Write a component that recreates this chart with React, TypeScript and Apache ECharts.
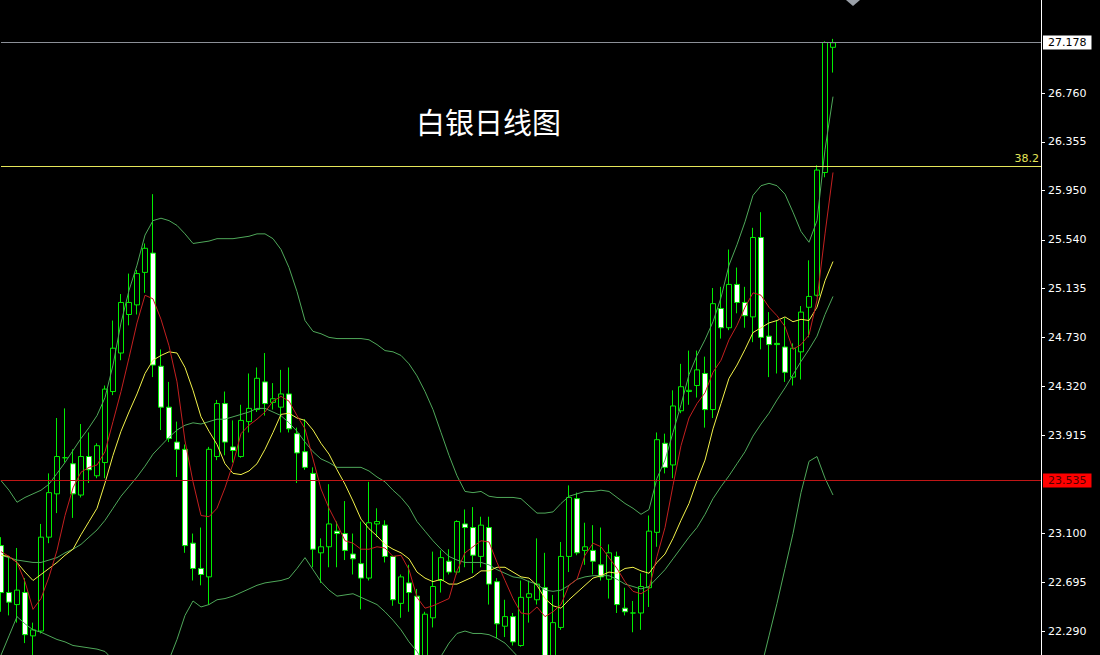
import React, { useEffect, useRef } from "react";
import * as echarts from "echarts";

// ---- data ----
const chartTitle = "白银日线图";
const slotCount = 131;
const categories = Array.from({ length: slotCount }, (_, i) => String(i + 1));

const opens = [
  23.00, 22.61, 22.51, 22.61, 22.25, 22.29, 23.07, 23.43, 23.73, 23.68,
  23.42, 23.74, 23.58, 23.69, 24.28, 24.60, 24.92, 25.00, 25.27, 25.43,
  24.49, 24.15, 23.86, 23.80, 23.02, 22.81, 22.74, 23.74, 24.18, 23.82,
  23.74, 24.03, 24.13, 24.36, 24.19, 24.15, 24.26, 23.93, 23.78, 23.60,
  22.94, 22.99, 23.12, 23.10, 22.93, 22.85, 22.73, 23.18, 23.17, 22.91,
  22.52, 22.69, 22.58, 22.01, 22.40, 22.71, 22.87, 22.78, 23.18, 23.15,
  22.91, 23.15, 22.70, 22.33, 22.41, 22.17, 22.57, 22.55, 22.65, 22.01,
  22.32, 22.91, 23.39, 22.96, 22.96, 22.84, 22.72, 22.91, 22.48, 22.44,
  22.44, 22.65, 23.11, 23.85, 23.67, 24.12, 24.28, 24.33, 24.43, 24.13,
  24.97, 24.81, 25.17, 25.02, 24.90, 25.56, 24.74, 24.68, 24.65, 24.40,
  24.61, 24.98, 25.08, 26.10, 27.14,
];
const closes = [
  22.61, 22.53, 22.63, 22.26, 22.30, 23.07, 23.44, 23.74, 23.73, 23.43,
  23.74, 23.63, 23.83, 24.30, 24.64, 25.02, 25.02, 25.26, 25.47, 24.50,
  24.15, 23.89, 23.80, 23.00, 22.81, 22.76, 23.80, 24.18, 23.86, 23.79,
  24.04, 24.14, 24.39, 24.18, 24.22, 24.26, 23.97, 23.77, 23.65, 22.97,
  22.99, 23.18, 23.10, 22.96, 22.89, 22.73, 23.19, 23.20, 22.91, 22.55,
  22.74, 22.61, 22.05, 22.43, 22.66, 22.90, 22.78, 23.20, 23.15, 22.92,
  23.17, 22.68, 22.35, 22.41, 22.20, 22.57, 22.60, 22.68, 22.01, 22.36,
  22.91, 23.40, 22.94, 22.99, 22.87, 22.74, 22.94, 22.51, 22.45, 22.44,
  22.66, 23.12, 23.88, 23.65, 24.16, 24.32, 24.29, 24.46, 24.13, 25.01,
  24.81, 25.17, 25.02, 24.91, 25.56, 24.73, 24.67, 24.67, 24.44, 24.64,
  24.94, 25.07, 26.12, 27.18, 27.178,
];
const highs = [
  23.07, 22.91, 22.98, 22.73, 22.36, 23.18, 23.60, 24.06, 24.14, 23.80,
  24.01, 23.94, 23.85, 24.33, 24.87, 25.09, 25.26, 25.29, 25.51, 25.92,
  24.63, 24.36, 24.03, 23.84, 23.10, 23.15, 23.82, 24.21, 24.28, 24.04,
  24.17, 24.43, 24.48, 24.60, 24.35, 24.46, 24.48, 23.98, 24.05, 23.65,
  23.06, 23.51, 23.20, 23.37, 23.10, 23.20, 23.53, 23.31, 23.21, 22.91,
  22.76, 22.84, 22.64, 22.45, 22.95, 22.96, 22.97, 23.21, 23.30, 23.32,
  23.24, 23.24, 22.73, 22.55, 22.44, 22.71, 22.71, 23.06, 22.94, 22.59,
  23.03, 23.50, 23.44, 23.19, 23.17, 23.15, 23.01, 22.95, 22.65, 22.54,
  22.77, 23.25, 23.94, 23.93, 24.29, 24.51, 24.62, 24.62, 24.57, 25.14,
  25.15, 25.46, 25.31, 25.15, 25.64, 25.77, 24.94, 24.87, 24.89, 24.68,
  24.99, 25.37, 26.16, 27.19, 27.21,
];
const lows = [
  22.45, 22.42, 22.36, 22.19, 22.05, 22.27, 23.02, 23.27, 23.69, 23.23,
  23.40, 23.52, 23.56, 23.56, 24.25, 24.54, 24.83, 24.92, 25.10, 24.40,
  23.96, 23.86, 23.57, 22.94, 22.71, 22.67, 22.51, 23.71, 23.75, 23.69,
  23.73, 23.94, 24.11, 24.08, 24.13, 23.94, 23.94, 23.52, 23.63, 22.82,
  22.69, 22.82, 22.82, 22.88, 22.76, 22.47, 22.71, 23.07, 22.86, 22.50,
  22.40, 22.45, 21.97, 21.95, 22.32, 22.61, 22.76, 22.76, 22.82, 22.77,
  22.82, 22.51, 22.23, 22.24, 22.17, 22.16, 22.36, 22.51, 21.92, 21.97,
  22.30, 22.78, 22.92, 22.84, 22.76, 22.71, 22.56, 22.44, 22.42, 22.28,
  22.30, 22.49, 22.99, 23.60, 23.56, 24.10, 24.17, 24.23, 23.98, 24.06,
  24.72, 24.79, 24.93, 24.81, 24.69, 24.63, 24.40, 24.43, 24.36, 24.33,
  24.38, 24.73, 25.07, 26.06, 26.93,
];

const ma5 = [
  22.95, 22.91, 22.86, 22.70, 22.47, 22.56, 22.74, 22.96, 23.25, 23.48,
  23.61, 23.65, 23.67, 23.78, 24.03, 24.28, 24.56, 24.85, 25.08, 25.05,
  24.88, 24.66, 24.36, 23.87, 23.53, 23.25, 23.24, 23.31, 23.48, 23.68,
  23.93, 24.00, 24.05, 24.11, 24.20, 24.24, 24.20, 24.08, 23.97, 23.72,
  23.47, 23.31, 23.18, 23.04, 23.02, 22.97, 22.97, 22.99, 22.98, 22.91,
  22.92, 22.80, 22.57, 22.48, 22.50, 22.53, 22.56, 22.79, 22.94, 22.99,
  23.04, 23.03, 22.86, 22.71, 22.56, 22.44, 22.43, 22.49, 22.41, 22.45,
  22.51, 22.67, 22.72, 22.92, 23.02, 22.99, 22.90, 22.81, 22.70, 22.62,
  22.60, 22.64, 22.91, 23.15, 23.50, 23.83, 24.06, 24.18, 24.27, 24.44,
  24.54, 24.71, 24.83, 24.98, 25.10, 25.08, 24.98, 24.91, 24.82, 24.63,
  24.67, 24.75, 25.04, 25.59, 26.10,
];
const ma10 = [
  22.92, 22.91, 22.86, 22.78, 22.71, 22.76, 22.81, 22.86, 22.92, 22.97,
  23.09, 23.20, 23.31, 23.52, 23.75, 23.95, 24.11, 24.26, 24.43, 24.54,
  24.58, 24.61, 24.60, 24.48, 24.29, 24.07, 23.95, 23.84, 23.68, 23.60,
  23.59, 23.62, 23.68, 23.80, 23.94, 24.09, 24.10, 24.06, 24.04, 23.96,
  23.85, 23.76, 23.63, 23.51, 23.37, 23.22, 23.14, 23.08, 23.01, 22.97,
  22.94, 22.89, 22.78, 22.73, 22.70, 22.72, 22.68, 22.68, 22.71, 22.74,
  22.79, 22.79, 22.82, 22.82, 22.78, 22.74, 22.73, 22.67, 22.56, 22.50,
  22.48, 22.55, 22.61, 22.67, 22.73, 22.75, 22.78, 22.77, 22.81, 22.82,
  22.79, 22.77, 22.86, 22.93, 23.06, 23.21, 23.35, 23.54, 23.71, 23.97,
  24.18, 24.39, 24.50, 24.63, 24.77, 24.81, 24.85, 24.87, 24.90, 24.86,
  24.88, 24.87, 24.98, 25.20, 25.36,
];
const bbMid = [
  22.92, 22.90, 22.88, 22.87, 22.86, 22.86, 22.88, 22.90, 22.94, 22.97,
  23.01, 23.07, 23.13, 23.21, 23.31, 23.41, 23.49, 23.57, 23.66, 23.76,
  23.83, 23.90, 23.96, 24.00, 24.02, 24.01, 24.03, 24.05, 24.05, 24.07,
  24.09, 24.11, 24.14, 24.14, 24.11, 24.08, 24.02, 23.95, 23.86, 23.78,
  23.72, 23.69, 23.65, 23.65, 23.65, 23.65, 23.62, 23.57, 23.53, 23.46,
  23.40, 23.32, 23.20, 23.12, 23.04, 22.97, 22.91, 22.88, 22.86, 22.86,
  22.86, 22.84, 22.80, 22.77, 22.74, 22.73, 22.70, 22.68, 22.63, 22.62,
  22.63, 22.67, 22.72, 22.74, 22.75, 22.75, 22.75, 22.72, 22.68, 22.66,
  22.64, 22.66, 22.73, 22.80, 22.89, 22.98, 23.07, 23.15, 23.26, 23.39,
  23.49, 23.58, 23.68, 23.78, 23.91, 24.01, 24.10, 24.21, 24.31, 24.42,
  24.53, 24.63, 24.74, 24.92, 25.07,
];
const bbUpper = [
  23.54, 23.46, 23.36, 23.40, 23.43, 23.46, 23.51, 23.60, 23.69, 23.79,
  23.89, 23.98, 24.08, 24.23, 24.50, 24.85, 25.12, 25.33, 25.58, 25.70,
  25.72, 25.70, 25.66, 25.59, 25.51, 25.52, 25.53, 25.55, 25.55, 25.55,
  25.56, 25.57, 25.59, 25.59, 25.55, 25.46, 25.31, 25.11, 24.87, 24.78,
  24.76, 24.73, 24.72, 24.72, 24.72, 24.72, 24.71, 24.67, 24.62, 24.61,
  24.58, 24.51, 24.41, 24.28, 24.13, 23.94, 23.75, 23.58, 23.45, 23.44,
  23.45, 23.41, 23.40, 23.40, 23.40, 23.39, 23.33, 23.27, 23.27, 23.28,
  23.35, 23.41, 23.43, 23.45, 23.45, 23.46, 23.45, 23.40, 23.35, 23.31,
  23.26, 23.30, 23.56, 23.71, 23.94, 24.17, 24.42, 24.58, 24.71, 24.86,
  25.06, 25.33, 25.50, 25.69, 25.91, 25.99, 26.01, 25.99, 25.92, 25.77,
  25.61, 25.52, 25.70, 26.29, 26.73,
];
const bbLower = [
  22.09, 22.25, 22.41, 22.35, 22.30, 22.28, 22.25, 22.22, 22.20, 22.17,
  22.16, 22.15, 22.14, 22.12, 22.05, 21.92, 21.84, 21.80, 21.76, 21.80,
  21.92, 22.05, 22.22, 22.42, 22.54, 22.49, 22.51, 22.55, 22.56, 22.58,
  22.61, 22.64, 22.67, 22.69, 22.70, 22.71, 22.73, 22.81, 22.90, 22.80,
  22.70, 22.63, 22.58, 22.59, 22.60, 22.57, 22.54, 22.51, 22.45, 22.38,
  22.30, 22.20, 22.12, 22.01, 21.98, 22.08, 22.19, 22.27, 22.29, 22.27,
  22.27, 22.26, 22.23, 22.19, 22.12, 22.05, 22.03, 22.02, 21.99, 21.97,
  21.91, 21.93, 22.00, 22.05, 22.06, 22.03, 22.06, 22.04, 22.02, 22.02,
  22.02, 22.02, 21.90, 21.88, 21.86, 21.79, 21.71, 21.73, 21.82, 21.92,
  21.92, 21.83, 21.86, 21.87, 21.91, 21.98, 22.25, 22.52, 22.81, 23.10,
  23.44, 23.70, 23.74, 23.56, 23.42,
];

const tickLabels = [22.290, 22.695, 23.100, 23.915, 24.320, 24.730, 25.135, 25.540, 25.950, 26.355, 26.760];
const lastPrice = 27.178;
const supportLevel = 23.535;
const fibLevel = 26.153;
const fibLabel = "38.2";
const yMin = 22.091;
const yMax = 27.533;

const priceLabel = (text: string, bg: string, fg: string) => ({
  show: true,
  position: "end",
  formatter: text,
  color: fg,
  backgroundColor: bg,
  padding: [2, 5, 1, 5],
  fontSize: 11,
  distance: 2,
  fontFamily: "DejaVu Sans",
});

const hLine = (value: number, color: string, label: any) => ({
  silent: true,
  symbol: ["none", "none"],
  animation: false,
  data: [
    {
      yAxis: value,
      lineStyle: { color, width: 1, type: "solid", opacity: 1 },
      label,
    },
  ],
});

export default function App() {
  const ref = useRef<HTMLDivElement>(null);

  useEffect(() => {
    if (!ref.current) return;
    const chart = echarts.init(ref.current, undefined, { renderer: "svg" });
    const candleData = opens.map((o, i) => [o, closes[i], lows[i], highs[i]]);
    const lineSeries = (name: string, data: number[], color: string, markLine?: any) => ({
      name,
      type: "line",
      data,
      symbol: "none",
      showSymbol: false,
      smooth: false,
      clip: true,
      z: 3,
      lineStyle: { color, width: 1 },
      silent: true,
      ...(markLine ? { markLine } : {}),
    });

    chart.setOption({
      animation: false,
      backgroundColor: "#000000",
      textStyle: { fontFamily: "DejaVu Sans" },
      title: {
        text: chartTitle,
        left: 416,
        top: 106,
        padding: 0,
        textStyle: {
          color: "#ffffff",
          fontSize: 29,
          fontWeight: "normal",
          fontFamily: "Noto Sans CJK SC",
        },
      },
      grid: { left: 1, right: 59, top: 0, bottom: 0, containLabel: false },
      xAxis: {
        type: "category",
        data: categories,
        boundaryGap: false,
        show: false,
      },
      yAxis: {
        type: "value",
        position: "right",
        min: yMin,
        max: yMax,
        scale: true,
        splitLine: { show: false },
        axisLine: { show: true, lineStyle: { color: "#ffffff", width: 1 } },
        axisTick: {
          show: true,
          length: 4,
          lineStyle: { color: "#ffffff" },
          customValues: tickLabels,
        },
        axisLabel: {
          color: "#ffffff",
          fontSize: 11,
          margin: 7,
          fontFamily: "DejaVu Sans",
          customValues: tickLabels,
          formatter: (v: number) => v.toFixed(3),
        },
      },
      graphic: [
        {
          type: "polygon",
          shape: { points: [[846, 0], [853, 6], [860, 0], [853, -6]] },
          style: { fill: "#9aa0a8" },
        },
      ],
      series: [
        {
          type: "candlestick",
          data: candleData,
          barWidth: 5,
          z: 2,
          itemStyle: {
            color: "#000000",
            color0: "#ffffff",
            borderColor: "#00ee00",
            borderColor0: "#00ee00",
            borderWidth: 1,
          },
        },
        lineSeries(
          "BB Upper",
          bbUpper,
          "#4fa85a",
          hLine(lastPrice, "#8c9098", priceLabel(lastPrice.toFixed(3), "#ffffff", "#000000"))
        ),
        lineSeries(
          "BB Mid",
          bbMid,
          "#4fa85a",
          hLine(fibLevel, "#e6e65a", {
            show: true,
            position: "insideEndTop",
            formatter: fibLabel,
            color: "#e6e65a",
            fontSize: 11,
            distance: 2,
            fontFamily: "DejaVu Sans",
          })
        ),
        lineSeries("BB Lower", bbLower, "#4fa85a"),
        lineSeries("MA10", ma10, "#f2f24a"),
        lineSeries(
          "MA5",
          ma5,
          "#c42020",
          hLine(supportLevel, "#c01616", priceLabel(supportLevel.toFixed(3), "#ff0000", "#500000"))
        ),
      ],
    });

    return () => {
      chart.dispose();
    };
  }, []);

  return (
    <div
      ref={ref}
      style={{
        position: "fixed",
        left: 0,
        top: 0,
        width: 1100,
        height: 655,
        background: "#000",
      }}
    />
  );
}
